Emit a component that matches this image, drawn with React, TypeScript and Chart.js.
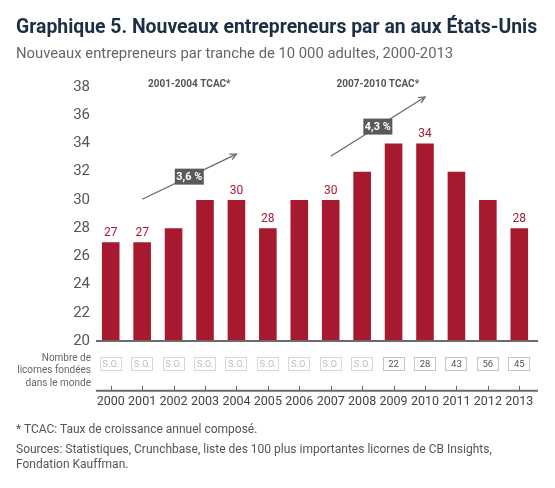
import React, { useEffect, useRef } from 'react';
import { Chart, registerables } from 'chart.js';
Chart.register(...registerables);

const years = ['2000', '2001', '2002', '2003', '2004', '2005', '2006', '2007', '2008', '2009', '2010', '2011', '2012', '2013'];
const entrepreneurs = [27, 27, 28, 30, 30, 28, 30, 30, 32, 34, 34, 32, 30, 28];
const labeledYears = ['2000', '2001', '2004', '2005', '2007', '2010', '2013'];
const unicorns: (number | null)[] = [null, null, null, null, null, null, null, null, null, 22, 28, 43, 56, 45];
const yTickValues = [20, 22, 24, 26, 28, 30, 32, 34, 36, 38];
const cagrPeriods = ['2001-2004 TCAC*', '2007-2010 TCAC*'];
const cagrValues = ['3,6 %', '4,3 %'];
const cagrFromYear = ['2001', '2007'];
const cagrToYear = ['2004', '2010'];
const cagrFromLevel = [30.05, 33.1];
const cagrToLevel = [33.25, 37.3];
const periodLabelLevel = 38.2;
const noDataText = 'S.O.';
const unicornRowLabel = ['Nombre de', 'licornes fondées', 'dans le monde'];

const BAR = '#A6192E';
const FONT = 'Roboto';

const overlay = {
  id: 'overlay',
  afterDraw(chart: any) {
    const ctx = chart.ctx as CanvasRenderingContext2D;
    const x = chart.scales.x;
    const y = chart.scales.y;
    const area = chart.chartArea;
    const base = y.getPixelForValue(20);
    ctx.save();
    // baseline
    ctx.strokeStyle = '#6b6b6b';
    ctx.lineWidth = 2;
    ctx.beginPath();
    ctx.moveTo(area.left + 1, base);
    ctx.lineTo(area.right + 3, base);
    ctx.stroke();
    // lower axis
    const low = area.bottom;
    ctx.beginPath();
    ctx.moveTo(area.left + 1, low);
    ctx.lineTo(area.right + 3, low);
    ctx.stroke();
    ctx.lineWidth = 1;
    years.forEach((_, i) => {
      const px = Math.round(x.getPixelForValue(i)) + 0.5;
      ctx.beginPath();
      ctx.moveTo(px, low - 5);
      ctx.lineTo(px, low);
      ctx.stroke();
    });
    // value labels
    const meta = chart.getDatasetMeta(0);
    ctx.fillStyle = BAR;
    ctx.font = `12px ${FONT}`;
    ctx.textAlign = 'center';
    ctx.textBaseline = 'middle';
    years.forEach((yr, i) => {
      if (!labeledYears.includes(yr)) return;
      const el = meta.data[i];
      ctx.fillText(String(entrepreneurs[i]), el.x, el.y - 9);
    });
    // unicorn boxes
    const boxMid = base + 23;
    years.forEach((_, i) => {
      const px = x.getPixelForValue(i);
      const v = unicorns[i];
      ctx.lineWidth = 1;
      ctx.strokeStyle = v == null ? '#d6d6d6' : '#c4c4c4';
      ctx.strokeRect(Math.round(px - 11) + 0.5, Math.round(boxMid - 7) + 0.5, 21, 13);
      ctx.fillStyle = v == null ? '#c0c0c0' : '#555555';
      ctx.font = `9.5px ${FONT}`;
      ctx.fillText(v == null ? noDataText : String(v), px, boxMid + 0.5);
    });
    // unicorn row label
    ctx.fillStyle = '#666666';
    ctx.font = `10px ${FONT}`;
    ctx.textAlign = 'right';
    unicornRowLabel.forEach((t, k) => {
      ctx.fillText(t, area.left - 4, base + 17 + k * 12.5);
    });
    // CAGR annotations
    cagrPeriods.forEach((p, k) => {
      const x0 = x.getPixelForValue(years.indexOf(cagrFromYear[k]));
      const x1 = x.getPixelForValue(years.indexOf(cagrToYear[k]));
      const y0 = y.getPixelForValue(cagrFromLevel[k]);
      const y1 = y.getPixelForValue(cagrToLevel[k]);
      ctx.strokeStyle = '#6a6a6a';
      ctx.lineWidth = 1.3;
      ctx.beginPath();
      ctx.moveTo(x0, y0);
      ctx.lineTo(x1, y1);
      ctx.stroke();
      const ang = Math.atan2(y1 - y0, x1 - x0);
      const h = 7;
      ctx.beginPath();
      ctx.moveTo(x1 - h * Math.cos(ang - 0.45), y1 - h * Math.sin(ang - 0.45));
      ctx.lineTo(x1, y1);
      ctx.lineTo(x1 - h * Math.cos(ang + 0.45), y1 - h * Math.sin(ang + 0.45));
      ctx.stroke();
      const mx = (x0 + x1) / 2;
      const my = (y0 + y1) / 2;
      ctx.font = `bold 11px ${FONT}`;
      const w = 29;
      ctx.fillStyle = '#5a5a5a';
      ctx.fillRect(mx - w / 2, my - 8, w, 16);
      ctx.fillStyle = '#ffffff';
      ctx.textAlign = 'center';
      ctx.fillText(cagrValues[k], mx, my + 0.5, w - 3);
      ctx.fillStyle = '#555555';
      ctx.font = `bold 10px ${FONT}`;
      ctx.fillText(p, mx, y.getPixelForValue(periodLabelLevel));
    });
    ctx.restore();
  },
};

export default function App() {
  const ref = useRef<HTMLCanvasElement>(null);
  useEffect(() => {
    const chart = new Chart(ref.current!, {
      type: 'bar',
      data: {
        labels: years,
        datasets: [
          {
            data: entrepreneurs,
            base: 20,
            backgroundColor: BAR,
            borderWidth: 0,
            barPercentage: 0.56,
            categoryPercentage: 1,
          } as any,
        ],
      },
      options: {
        responsive: false,
        animation: false,
        layout: { padding: { left: 0, right: 20, top: 80, bottom: 67.3 } },
        plugins: { legend: { display: false }, tooltip: { enabled: false } },
        scales: {
          x: {
            grid: { display: false, drawTicks: false },
            border: { display: false },
            afterFit: (s: any) => {
              s.height = 30;
            },
            ticks: { color: '#444444', font: { family: FONT, size: 12.5 }, padding: 4, maxRotation: 0, autoSkip: false },
          },
          y: {
            min: 16.48,
            max: 38.5,
            grid: { display: false, drawTicks: false },
            border: { display: false },
            afterBuildTicks: (s: any) => {
              s.ticks = yTickValues.map((v) => ({ value: v }));
            },
            afterFit: (s: any) => {
              s.width = 95;
            },
            ticks: { color: '#555555', font: { family: FONT, size: 15 }, padding: 5 },
          },
        },
      },
      plugins: [overlay],
    });
    return () => chart.destroy();
  }, []);
  return (
    <div style={{ position: 'fixed', left: 0, top: 0, width: 555, height: 488, background: '#fff', fontFamily: FONT, overflow: 'hidden' }}>
      <canvas ref={ref} width={555} height={488} style={{ position: 'absolute', left: 0, top: 0 }} />
      <div style={{ position: 'absolute', left: 16, top: 17, fontSize: 19.4, lineHeight: '19.4px', fontWeight: 700, color: '#1c2f45', whiteSpace: 'nowrap' }}>
        Graphique 5. Nouveaux entrepreneurs par an aux États-Unis
      </div>
      <div style={{ position: 'absolute', left: 16, top: 46, fontSize: 14.8, lineHeight: '15px', color: '#666666', whiteSpace: 'nowrap' }}>
        Nouveaux entrepreneurs par tranche de 10 000 adultes, 2000-2013
      </div>
      <div style={{ position: 'absolute', left: 16, top: 422, fontSize: 12, lineHeight: '15px', color: '#555555' }}>
        <div>* TCAC: Taux de croissance annuel composé.</div>
        <div style={{ marginTop: 5 }}>Sources: Statistiques, Crunchbase, liste des 100 plus importantes licornes de CB Insights,</div>
        <div>Fondation Kauffman.</div>
      </div>
    </div>
  );
}
